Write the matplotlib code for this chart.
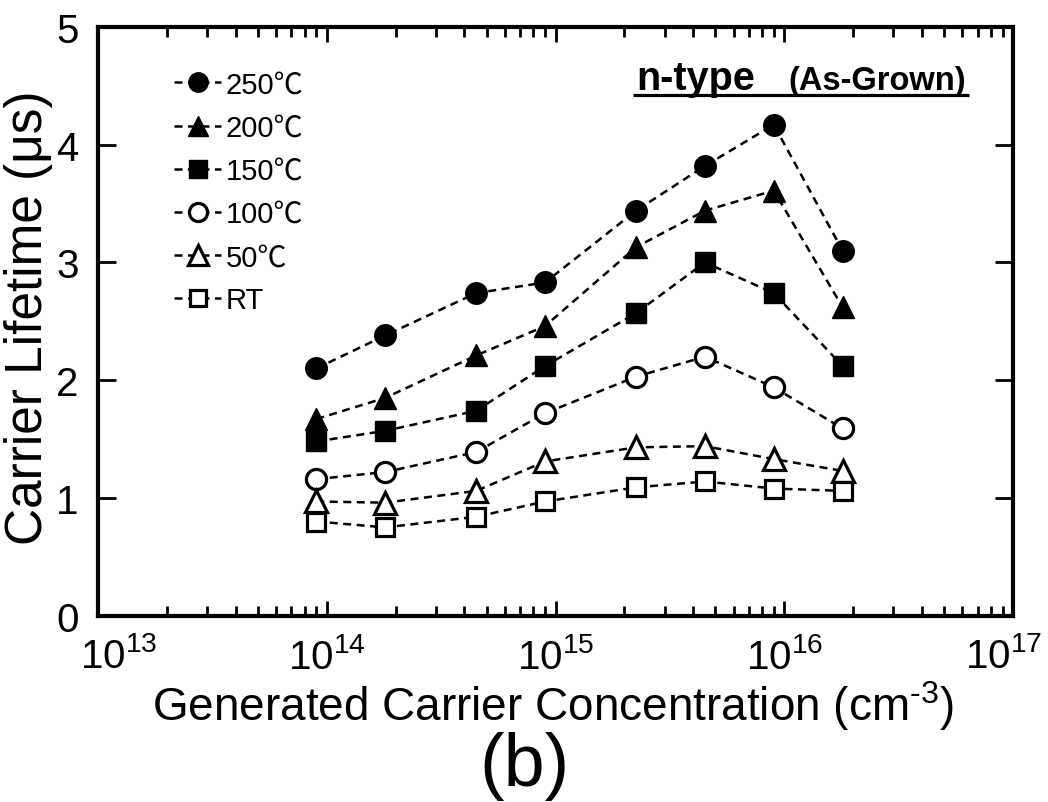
import math
import matplotlib
matplotlib.use("Agg")
import matplotlib.pyplot as plt
from matplotlib.font_manager import FontProperties
from matplotlib.ticker import LogLocator, FixedLocator, FuncFormatter, NullFormatter

plt.rcParams['font.family'] = ['Liberation Sans', 'DejaVu Sans']
plt.rcParams['mathtext.fontset'] = 'custom'
plt.rcParams['mathtext.rm'] = 'Liberation Sans'
plt.rcParams['mathtext.it'] = 'Liberation Sans'

# ---- data ----
conc = [9e13, 1.8e14, 4.5e14, 9e14, 2.25e15, 4.5e15, 9e15, 1.8e16]
t250 = [2.10, 2.38, 2.74, 2.83, 3.44, 3.82, 4.17, 3.10]
t200 = [1.67, 1.85, 2.21, 2.46, 3.13, 3.44, 3.61, 2.62]
t150 = [1.48, 1.57, 1.74, 2.12, 2.57, 3.00, 2.74, 2.12]
t100 = [1.16, 1.22, 1.39, 1.72, 2.03, 2.20, 1.94, 1.59]
t50 = [0.97, 0.96, 1.06, 1.31, 1.43, 1.44, 1.33, 1.23]
tRT = [0.80, 0.75, 0.84, 0.97, 1.09, 1.14, 1.08, 1.06]
labels = ['250\u2103', '200\u2103', '150\u2103', '100\u2103', '50\u2103', 'RT']
xticks = [1e13, 1e14, 1e15, 1e16, 1e17]
yticks = [0, 1, 2, 3, 4, 5]

series = [t250, t200, t150, t100, t50, tRT]
markers = ['o', '^', 's', 'o', '^', 's']
filled = [True, True, True, False, False, False]
msizes = [15.5, 15.5, 14, 14.5, 15.5, 13.5]

fig = plt.figure(figsize=(10.48, 8.03), dpi=100)
ax = fig.add_axes([98/1048, 1-616.7/803, (1013-98)/1048, (616.7-28)/803])

for y, m, f, ms, lab in zip(series, markers, filled, msizes, labels):
    ax.plot(conc, y, linestyle=(0, (3.2, 2.2)), color='black', linewidth=1.8,
            marker=m, markersize=ms,
            markerfacecolor='black' if f else 'white',
            markeredgecolor='black', markeredgewidth=1.0 if f else 2.3,
            label=lab, clip_on=False, zorder=3)

ax.set_xscale('log')
ax.set_xlim(xticks[0], xticks[-1])
ax.set_ylim(yticks[0], yticks[-1])


def fmt_x(v, p):
    e = round(math.log10(v))
    if v in (xticks[0], xticks[-1]):
        return ''
    return r'$\mathregular{10^{%d}}$' % e


ax.xaxis.set_major_locator(FixedLocator(xticks))
ax.xaxis.set_minor_locator(LogLocator(base=10, subs=range(2, 10), numticks=20))
ax.xaxis.set_minor_formatter(NullFormatter())
ax.xaxis.set_major_formatter(FuncFormatter(fmt_x))
ax.yaxis.set_major_locator(FixedLocator(yticks))

for s in ax.spines.values():
    s.set_linewidth(3.0)
ax.tick_params(axis='both', which='major', direction='in', top=True, right=True,
               width=2.0, length=11)
ax.tick_params(axis='x', which='minor', direction='in', top=True, width=2.0, length=7)
ax.tick_params(axis='x', which='major', labelsize=29, pad=15)
ax.tick_params(axis='y', which='major', labelsize=29, pad=14, length=13)

# end labels of x axis, pulled inward as in the original
ylab_y = 1 - 657/803
fig.text(80/1048, ylab_y, r'$\mathregular{10^{%d}}$' % round(math.log10(xticks[0])),
         ha='left', va='center', fontsize=29)
fig.text(1042/1048, ylab_y, r'$\mathregular{10^{%d}}$' % round(math.log10(xticks[-1])),
         ha='right', va='center', fontsize=29)

legprop = FontProperties(family=['Liberation Sans', 'Noto Sans CJK JP'], size=21)
leg = ax.legend(loc='upper left', bbox_to_anchor=(0.083, 0.926), frameon=False,
                prop=legprop, handlelength=1.62, handletextpad=0.15,
                labelspacing=0.52, markerscale=0.9, borderpad=0, borderaxespad=0)

# title with underline
ax.text(0.588, 0.8947, 'n-type', transform=ax.transAxes, fontsize=28.5,
        fontweight='bold', va='baseline', ha='left')
ax.text(0.754, 0.8947, '(As-Grown)', transform=ax.transAxes, fontsize=23.5,
        fontweight='bold', va='baseline', ha='left')
ax.plot([0.585, 0.952], [0.885, 0.885], transform=ax.transAxes, color='black',
        linewidth=2.3, solid_capstyle='butt', clip_on=False)

fig.text(553/1048, 1-721/803, 'Generated Carrier Concentration (cm$^{\\mathregular{\u2010 3}}$)',
         ha='center', va='baseline', fontsize=33)
fig.text(29/1048, 1-318/803, 'Carrier Lifetime (μs)', rotation=90,
         ha='center', va='center', fontsize=37)
fig.text(525/1048, 1-767/803, '(b)', ha='center', va='center', fontsize=53)

fig.savefig('out.png', dpi=100)
